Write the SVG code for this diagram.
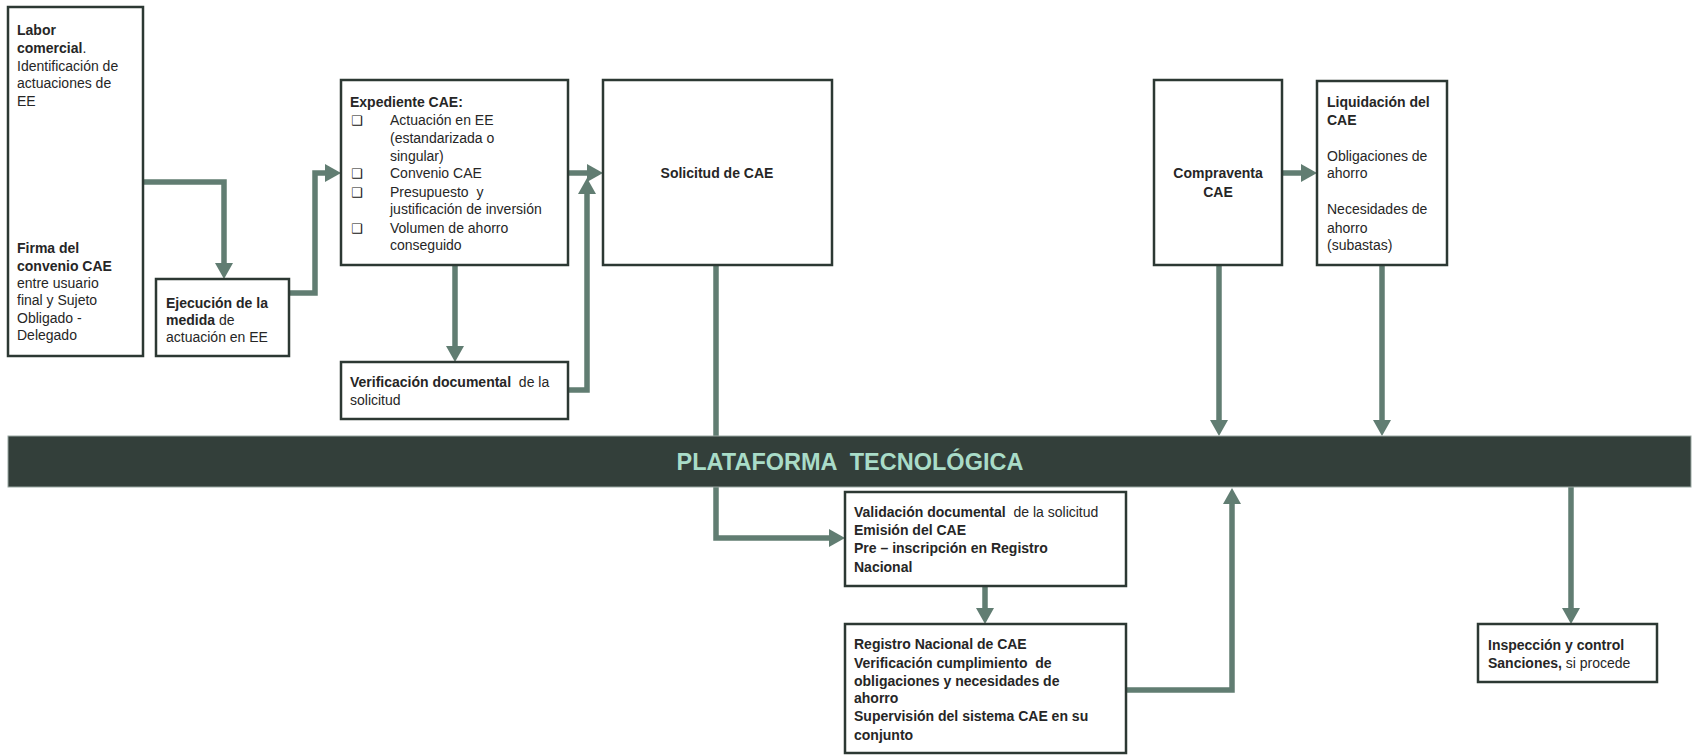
<svg xmlns="http://www.w3.org/2000/svg" width="1696" height="755" viewBox="0 0 1696 755">
<defs>
<marker id="ah" markerUnits="userSpaceOnUse" markerWidth="16" markerHeight="18" refX="4" refY="9" orient="auto">
<path d="M0,0 L16,9 L0,18 z" fill="#617d72"/>
</marker>
<style>
.box{fill:#ffffff;stroke:#2c3833;stroke-width:2.5}
.t{font-family:"Liberation Sans",Arial,sans-serif;font-size:14px;fill:#262626}
.b{font-weight:bold}
.c{text-anchor:middle}
.bul{font-family:"DejaVu Sans",sans-serif;font-size:13px;font-weight:bold;fill:#111111}
.con{fill:none;stroke:#617d72;stroke-width:5.5;stroke-linejoin:miter;marker-end:url(#ah)}
</style>
</defs>
<rect width="1696" height="755" fill="#ffffff"/>

<g id="connectors">
<path class="con" d="M143,182 H224 V267"/>
<path class="con" d="M289,293 H315 V173 H329"/>
<path class="con" d="M568,173 H591"/>
<path class="con" d="M568,390 H587 V190"/>
<path class="con" d="M455,265 V350"/>
<path class="con" d="M716,265 V538 H833"/>
<path class="con" d="M985,586 V612"/>
<path class="con" d="M1126,690 H1232 V500"/>
<path class="con" d="M1282,173 H1305"/>
<path class="con" d="M1219,265 V424"/>
<path class="con" d="M1382,265 V424"/>
<path class="con" d="M1571,487 V612"/>
</g>

<g id="plataforma">
<rect x="8" y="436" width="1683" height="51" fill="#333f3a" stroke="#9aa8a2" stroke-width="1"/>
<text x="850" y="470" text-anchor="middle" font-family="'Liberation Sans',Arial,sans-serif" font-size="23.5" font-weight="bold" fill="#a9dcc8" xml:space="preserve">PLATAFORMA  TECNOLÓGICA</text>
</g>

<g id="labor">
<rect class="box" x="8" y="7" width="135" height="349"/>
<text class="t" x="17" y="35"><tspan class="b">Labor</tspan></text>
<text class="t" x="17" y="53"><tspan class="b">comercial</tspan>.</text>
<text class="t" x="17" y="71">Identificación de</text>
<text class="t" x="17" y="88">actuaciones de</text>
<text class="t" x="17" y="106">EE</text>
<text class="t b" x="17" y="253">Firma del</text>
<text class="t b" x="17" y="271">convenio CAE</text>
<text class="t" x="17" y="288">entre usuario</text>
<text class="t" x="17" y="305">final y Sujeto</text>
<text class="t" x="17" y="323">Obligado -</text>
<text class="t" x="17" y="340">Delegado</text>
</g>

<g id="ejecucion">
<rect class="box" x="156" y="279" width="133" height="77"/>
<text class="t b" x="166" y="308">Ejecución de la</text>
<text class="t" x="166" y="325"><tspan class="b">medida</tspan> de</text>
<text class="t" x="166" y="342">actuación en EE</text>
</g>

<g id="expediente">
<rect class="box" x="341" y="80" width="227" height="185"/>
<text class="t b" x="350" y="107">Expediente CAE:</text>
<text class="bul" x="351" y="125">❑</text>
<text class="t" x="390" y="125">Actuación en EE</text>
<text class="t" x="390" y="143">(estandarizada o</text>
<text class="t" x="390" y="161">singular)</text>
<text class="bul" x="351" y="178">❑</text>
<text class="t" x="390" y="178">Convenio CAE</text>
<text class="bul" x="351" y="197">❑</text>
<text class="t" x="390" y="197" xml:space="preserve">Presupuesto  y</text>
<text class="t" x="390" y="214">justificación de inversión</text>
<text class="bul" x="351" y="233">❑</text>
<text class="t" x="390" y="233">Volumen de ahorro</text>
<text class="t" x="390" y="250">conseguido</text>
</g>

<g id="verificacion">
<rect class="box" x="341" y="362" width="227" height="57"/>
<text class="t" x="350" y="387" xml:space="preserve"><tspan class="b">Verificación documental</tspan>  de la</text>
<text class="t" x="350" y="405">solicitud</text>
</g>

<g id="solicitud">
<rect class="box" x="603" y="80" width="229" height="185"/>
<text class="t b c" x="717" y="178">Solicitud de CAE</text>
</g>

<g id="compraventa">
<rect class="box" x="1154" y="80" width="128" height="185"/>
<text class="t b c" x="1218" y="178">Compraventa</text>
<text class="t b c" x="1218" y="197">CAE</text>
</g>

<g id="liquidacion">
<rect class="box" x="1317" y="81" width="130" height="184"/>
<text class="t b" x="1327" y="107">Liquidación del</text>
<text class="t b" x="1327" y="125">CAE</text>
<text class="t" x="1327" y="161">Obligaciones de</text>
<text class="t" x="1327" y="178">ahorro</text>
<text class="t" x="1327" y="214">Necesidades de</text>
<text class="t" x="1327" y="233">ahorro</text>
<text class="t" x="1327" y="250">(subastas)</text>
</g>

<g id="validacion">
<rect class="box" x="845" y="492" width="281" height="94"/>
<text class="t" x="854" y="517" xml:space="preserve"><tspan class="b">Validación documental</tspan>  de la solicitud</text>
<text class="t b" x="854" y="535">Emisión del CAE</text>
<text class="t b" x="854" y="553">Pre – inscripción en Registro</text>
<text class="t b" x="854" y="572">Nacional</text>
</g>

<g id="registro">
<rect class="box" x="845" y="624" width="281" height="129"/>
<text class="t b" x="854" y="649">Registro Nacional de CAE</text>
<text class="t b" x="854" y="668" xml:space="preserve">Verificación cumplimiento  de</text>
<text class="t b" x="854" y="686">obligaciones y necesidades de</text>
<text class="t b" x="854" y="703">ahorro</text>
<text class="t b" x="854" y="721">Supervisión del sistema CAE en su</text>
<text class="t b" x="854" y="740">conjunto</text>
</g>

<g id="inspeccion">
<rect class="box" x="1478" y="624" width="179" height="58"/>
<text class="t b" x="1488" y="650">Inspección y control</text>
<text class="t" x="1488" y="668"><tspan class="b">Sanciones,</tspan> si procede</text>
</g>
</svg>
